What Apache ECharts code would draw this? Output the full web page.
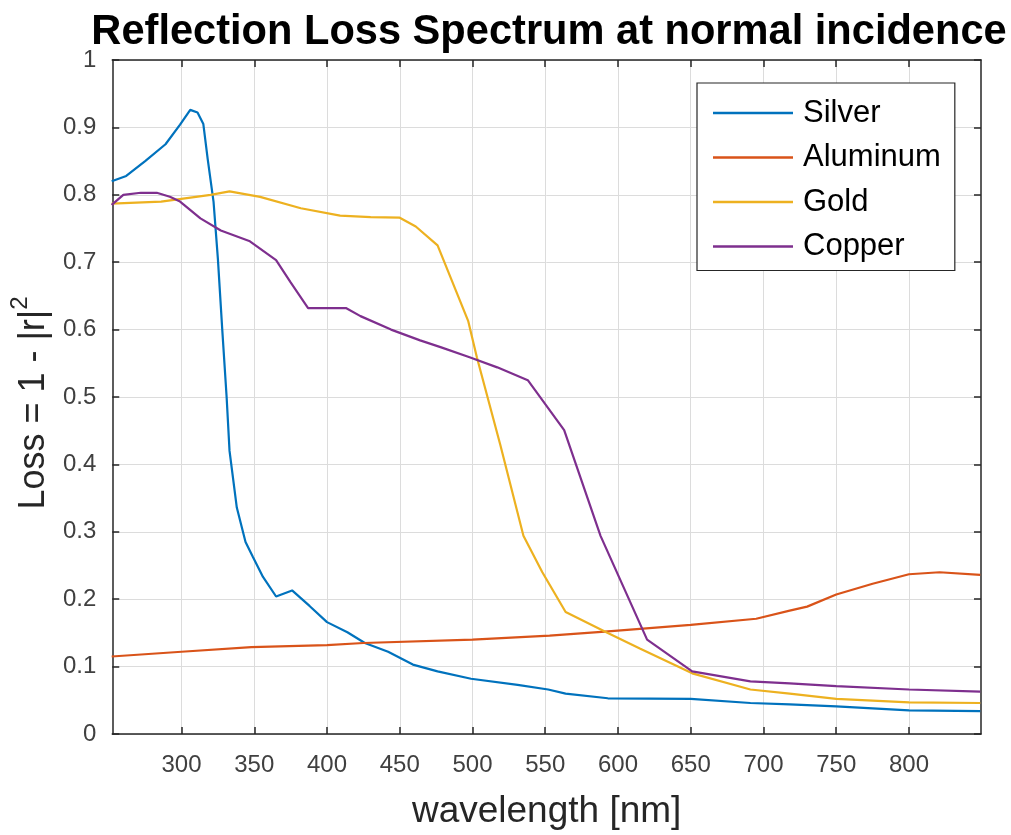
<!DOCTYPE html>
<html>
<head>
<meta charset="utf-8">
<script src="https://cdn.jsdelivr.net/npm/echarts@6/dist/echarts.min.js"></script>
<style>
  html, body { margin: 0; padding: 0; background: #fff; }
  #chart { width: 1011px; height: 835px; }
</style>
</head>
<body>
<div id="chart"></div>
<script>
// Reflection loss (1 - |r|^2) at normal incidence, per metal, vs wavelength in nm
const silverNm   = [252, 262, 275, 289, 299, 306, 311, 315, 318, 322, 325, 328, 331, 333, 338, 344, 349, 356, 365, 376, 388, 400, 414, 426, 442, 459, 476, 499, 531, 552, 564, 593, 650, 691, 718, 750, 800, 849];
const silverLoss = [0.82, 0.828, 0.85, 0.875, 0.904, 0.926, 0.922, 0.905, 0.853, 0.79, 0.705, 0.60, 0.50, 0.42, 0.336, 0.285, 0.263, 0.233, 0.204, 0.213, 0.19, 0.166, 0.151, 0.135, 0.122, 0.103, 0.093, 0.082, 0.073, 0.066, 0.06, 0.053, 0.052, 0.046, 0.044, 0.041, 0.035, 0.034];

const aluminumNm   = [252, 300, 348, 400, 425, 500, 553, 591, 650, 695, 718, 730, 750, 775, 800, 821, 849];
const aluminumLoss = [0.115, 0.122, 0.129, 0.132, 0.135, 0.14, 0.146, 0.152, 0.162, 0.171, 0.183, 0.189, 0.207, 0.223, 0.237, 0.24, 0.236];

const goldNm   = [252, 286, 320, 333, 354, 382, 409, 430, 450, 461, 476, 497, 503, 519, 535, 548, 564, 593, 615, 651, 691, 718, 750, 800, 849];
const goldLoss = [0.787, 0.79, 0.80, 0.805, 0.797, 0.78, 0.769, 0.767, 0.766, 0.753, 0.725, 0.613, 0.559, 0.43, 0.294, 0.24, 0.181, 0.15, 0.127, 0.09, 0.066, 0.06, 0.052, 0.047, 0.046];

const copperNm   = [252, 260, 272, 283, 292, 299, 313, 327, 347, 365, 375, 387, 413, 423, 444, 464, 478, 498, 517, 538, 563, 588, 620, 651, 691, 718, 750, 800, 849];
const copperLoss = [0.785, 0.80, 0.803, 0.803, 0.797, 0.79, 0.765, 0.747, 0.731, 0.703, 0.67, 0.632, 0.632, 0.62, 0.60, 0.584, 0.574, 0.559, 0.544, 0.525, 0.451, 0.294, 0.14, 0.093, 0.078, 0.075, 0.071, 0.066, 0.063];

const seriesNames = ['Silver', 'Aluminum', 'Gold', 'Copper'];
const seriesColors = ['#0072BD', '#D95319', '#EDB120', '#7E2F8E'];

const xTicks = [300, 350, 400, 450, 500, 550, 600, 650, 700, 750, 800];
const xMin = 252.4, xMax = 849.5;

const pair = (xs, ys) => xs.map((x, i) => [x, ys[i]]);
const allData = [
  pair(silverNm, silverLoss),
  pair(aluminumNm, aluminumLoss),
  pair(goldNm, goldLoss),
  pair(copperNm, copperLoss)
];

const FONT = 'Liberation Sans';
const AXIS_COLOR = '#262626';
const GRID_COLOR = '#dcdcdc';

const chart = echarts.init(document.getElementById('chart'), null, { renderer: 'canvas' });

chart.setOption({
  backgroundColor: '#fff',
  animation: false,
  title: {
    text: 'Reflection Loss Spectrum at normal incidence',
    left: 544,
    textAlign: 'center',
    top: 7,
    textStyle: { fontFamily: FONT, fontWeight: 'bold', fontSize: 41.6, color: '#000' }
  },
  grid: { left: 111, top: 60, width: 870, height: 678, containLabel: false },
  legend: {
    orient: 'vertical',
    left: 697,
    top: 83,
    data: seriesNames,
    icon: 'rect',
    itemWidth: 80,
    itemHeight: 2.5,
    itemGap: 12.5,
    padding: [14, 14, 8, 16],
    backgroundColor: '#fff',
    borderColor: AXIS_COLOR,
    borderWidth: 1.2,
    textStyle: { fontFamily: FONT, fontSize: 31, color: '#000', lineHeight: 32, padding: [0, 0, 0, 5] }
  },
  xAxis: [
    {
      type: 'value', min: xMin, max: xMax, position: 'bottom',
      name: 'wavelength [nm]', nameLocation: 'middle', nameGap: 59,
      nameTextStyle: { fontFamily: FONT, fontSize: 37, color: '#262626' },
      axisLine: { show: true, onZero: false, lineStyle: { color: AXIS_COLOR, width: 1.5 } },
      axisTick: { show: true, inside: true, length: 7, customValues: xTicks, lineStyle: { color: AXIS_COLOR, width: 1.5 } },
      axisLabel: { customValues: xTicks, margin: 19, fontFamily: FONT, fontSize: 24, color: '#404040' },
      splitLine: { show: true, lineStyle: { color: GRID_COLOR, width: 1 } }
    },
    {
      type: 'value', min: xMin, max: xMax, position: 'top',
      axisLine: { show: true, onZero: false, lineStyle: { color: AXIS_COLOR, width: 1.5 } },
      axisTick: { show: true, inside: true, length: 7, customValues: xTicks, lineStyle: { color: AXIS_COLOR, width: 1.5 } },
      axisLabel: { show: false },
      splitLine: { show: false }
    }
  ],
  yAxis: [
    {
      type: 'value', min: 0, max: 1, interval: 0.1, position: 'left',
      name: '{n|Loss = 1 - |r|}{s|2}', nameLocation: 'middle', nameGap: 57, nameRotate: 90,
      nameTextStyle: {
        fontFamily: FONT, fontSize: 36, color: '#262626', padding: [0, 12, 0, 0],
        rich: {
          n: { fontFamily: FONT, fontSize: 36, color: '#262626', lineHeight: 44, verticalAlign: 'bottom' },
          s: { fontFamily: FONT, fontSize: 24, color: '#262626', lineHeight: 44, verticalAlign: 'top' }
        }
      },
      axisLine: { show: true, onZero: false, lineStyle: { color: AXIS_COLOR, width: 1.5 } },
      axisTick: { show: true, inside: true, length: 7, lineStyle: { color: AXIS_COLOR, width: 1.5 } },
      axisLabel: {
        margin: 16, fontFamily: FONT, fontSize: 24, color: '#404040',
        formatter: v => (Math.round(v * 10) / 10).toString()
      },
      splitLine: { show: true, lineStyle: { color: GRID_COLOR, width: 1 } }
    },
    {
      type: 'value', min: 0, max: 1, interval: 0.1, position: 'right',
      axisLine: { show: true, onZero: false, lineStyle: { color: AXIS_COLOR, width: 1.5 } },
      axisTick: { show: true, inside: true, length: 7, lineStyle: { color: AXIS_COLOR, width: 1.5 } },
      axisLabel: { show: false },
      splitLine: { show: false }
    }
  ],
  series: seriesNames.map((name, i) => ({
    name,
    type: 'line',
    xAxisIndex: 0,
    yAxisIndex: 0,
    data: allData[i],
    showSymbol: false,
    symbol: 'none',
    smooth: false,
    color: seriesColors[i],
    lineStyle: { width: 2.2, color: seriesColors[i] },
    z: 3
  }))
});
</script>
</body>
</html>
